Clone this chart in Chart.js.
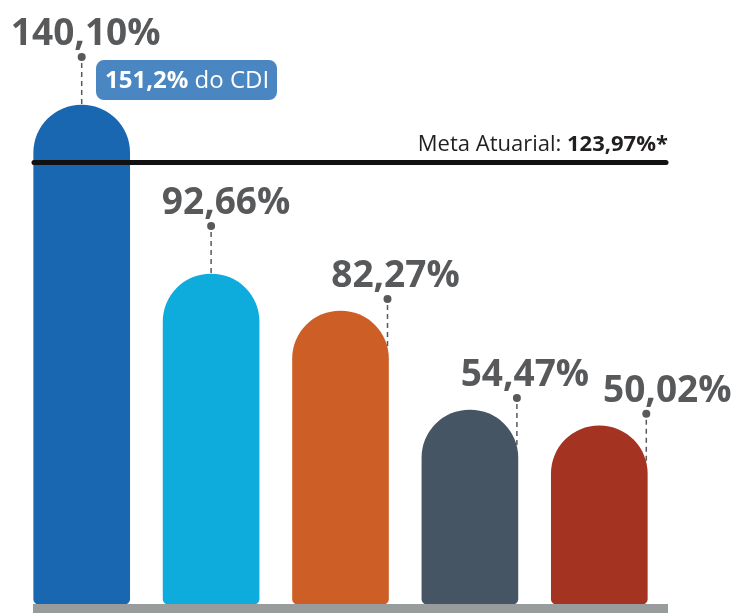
<!DOCTYPE html>
<html>
<head>
<meta charset="utf-8">
<script src="https://cdn.jsdelivr.net/npm/chart.js@4/dist/chart.umd.min.js"></script>
<style>
  html, body { margin: 0; padding: 0; background: #fff; }
  #wrap { width: 739px; height: 613px; }
</style>
</head>
<body>
<div id="wrap"><canvas id="chart"></canvas></div>
<script>
// dados
const categorias = ["Plano", "Índice 2", "Índice 3", "Índice 4", "Índice 5"];
const rentabilidade = [140.10, 92.66, 82.27, 54.47, 50.02];
const rotulos = ["140,10%", "92,66%", "82,27%", "54,47%", "50,02%"];
const metaAtuarial = 123.97;
const metaTexto = ["Meta Atuarial: ", "123,97%*"];
const cdiTexto = ["151,2%", " do CDI"];

const cores = ["#1a67b1", "#0eacdc", "#cd5f26", "#465564", "#a53322"];
const cinza = "#58595b";

// desenho dos rótulos, linha da meta, selo do CDI e base
const extras = {
  id: "extras",
  afterDatasetsDraw(chart) {
    const ctx = chart.ctx;
    const meta = chart.getDatasetMeta(0);
    const y = chart.scales.y;
    const area = chart.chartArea;

    // base cinza
    ctx.save();
    ctx.fillStyle = "#999c9c";
    ctx.fillRect(33, area.bottom, 635, 10);

    // linha da meta atuarial
    const ym = y.getPixelForValue(metaAtuarial);
    ctx.strokeStyle = "#111";
    ctx.lineWidth = 5;
    ctx.lineCap = "round";
    ctx.beginPath();
    ctx.moveTo(34, ym);
    ctx.lineTo(666, ym);
    ctx.stroke();

    ctx.textBaseline = "alphabetic";
    ctx.fillStyle = "#231f20";
    ctx.font = "bold 22px 'Open Sans'";
    const wb = ctx.measureText(metaTexto[1]).width;
    ctx.textAlign = "right";
    ctx.fillText(metaTexto[1], 668, ym - 12);
    ctx.font = "22px 'Open Sans'";
    ctx.fillText(metaTexto[0], 668 - wb, ym - 12);

    // rótulos dos valores
    meta.data.forEach((bar, i) => {
      const w = bar.width;
      const r = w / 2;
      let dx, dy, tx;
      if (i < 2) {
        dx = bar.x;
        dy = bar.y - 48;
        tx = bar.x + (i === 0 ? 4 : 15);
      } else {
        dx = bar.x + r - 1;
        dy = bar.y - 12;
        tx = dx + (i === 4 ? 21 : 8);
      }
      // ponto final da linha tracejada sobre a curva da barra
      const off = Math.min(Math.abs(dx - bar.x), r - 0.5);
      const yEnd = bar.y + r - Math.sqrt(r * r - off * off);

      ctx.strokeStyle = cinza;
      ctx.lineWidth = 1.5;
      ctx.lineCap = "butt";
      ctx.setLineDash([5, 4]);
      ctx.beginPath();
      ctx.moveTo(dx, dy + 6);
      ctx.lineTo(dx, yEnd);
      ctx.stroke();
      ctx.setLineDash([]);

      ctx.fillStyle = cinza;
      ctx.beginPath();
      ctx.arc(dx, dy, 4, 0, Math.PI * 2);
      ctx.fill();

      ctx.font = "bold 37px 'Open Sans'";
      ctx.textAlign = "center";
      ctx.fillText(rotulos[i], tx, dy - 12);
    });

    // selo do CDI
    const b0 = meta.data[0];
    const sx = 96, sy = b0.y - 45, sw = 181, sh = 40;
    ctx.fillStyle = "#4a86c1";
    ctx.beginPath();
    ctx.roundRect(sx, sy, sw, sh, 8);
    ctx.fill();
    ctx.fillStyle = "#fff";
    ctx.textAlign = "left";
    ctx.font = "bold 24px 'Open Sans'";
    const w1 = ctx.measureText(cdiTexto[0]).width;
    ctx.fillText(cdiTexto[0], sx + 9, sy + 28);
    ctx.font = "24px 'Open Sans'";
    ctx.fillText(cdiTexto[1], sx + 9 + w1, sy + 28);
    ctx.restore();
  }
};

new Chart(document.getElementById("chart"), {
  type: "bar",
  data: {
    labels: categorias,
    datasets: [{
      data: rentabilidade,
      backgroundColor: cores,
      barThickness: 96,
      borderSkipped: false,
      borderRadius: { topLeft: 48, topRight: 48, bottomLeft: 5, bottomRight: 5 }
    }]
  },
  options: {
    responsive: true,
    maintainAspectRatio: false,
    animation: false,
    layout: { padding: { left: 17, right: 75, top: 0, bottom: 9 } },
    plugins: {
      legend: { display: false },
      tooltip: { enabled: false }
    },
    scales: {
      x: { display: false, grid: { display: false } },
      y: { display: false, min: 0, max: 169.6, grid: { display: false } }
    }
  },
  plugins: [extras]
});
</script>
</body>
</html>
